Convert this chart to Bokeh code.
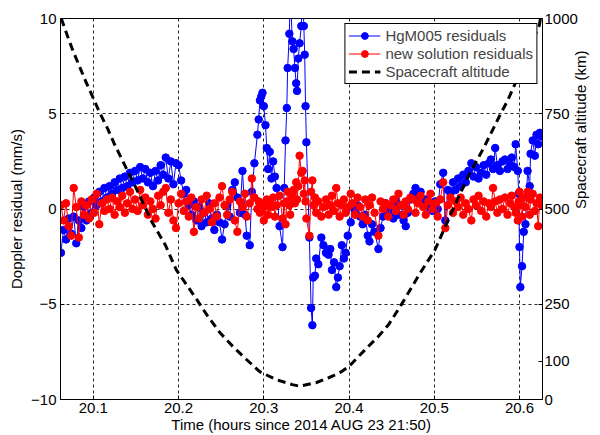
import math
from bokeh.plotting import figure
from bokeh.models import Range1d, LinearAxis, FixedTicker, Legend, LegendItem
from bokeh.embed import file_html
from bokeh.resources import INLINE

# Observation times (hours since 2014 AUG 23 21:50)
time_h = [
    20.062, 20.065, 20.068, 20.071, 20.074, 20.077, 20.080, 20.083, 20.086, 20.089,
    20.092, 20.095, 20.098, 20.101, 20.104, 20.107, 20.110, 20.113, 20.116, 20.119,
    20.122, 20.125, 20.128, 20.131, 20.134, 20.137, 20.140, 20.143, 20.146, 20.149,
    20.152, 20.155, 20.158, 20.161, 20.164, 20.167, 20.170, 20.173, 20.176, 20.179,
    20.182, 20.185, 20.188, 20.191, 20.194, 20.197, 20.200, 20.203, 20.206, 20.209,
    20.212, 20.215, 20.218, 20.221, 20.224, 20.227, 20.230, 20.233, 20.236, 20.239,
    20.242, 20.245, 20.248, 20.251, 20.254, 20.257, 20.260, 20.263, 20.266, 20.269,
    20.272, 20.275, 20.278, 20.280, 20.2835, 20.286, 20.289, 20.2925, 20.294, 20.2955,
    20.297, 20.2985, 20.300, 20.302, 20.3035, 20.305, 20.307, 20.309, 20.311, 20.313,
    20.315, 20.3185, 20.322, 20.324, 20.3255, 20.327, 20.328, 20.330, 20.331, 20.3335,
    20.335, 20.3365, 20.338, 20.339, 20.3405, 20.342, 20.344, 20.3455, 20.347, 20.348,
    20.349, 20.350, 20.3535, 20.3555, 20.357, 20.358, 20.360, 20.3615, 20.364, 20.3675,
    20.370, 20.373, 20.376, 20.378, 20.380, 20.3825, 20.385, 20.387, 20.389, 20.3915,
    20.394, 20.396, 20.3985, 20.402, 20.404, 20.407, 20.410, 20.413, 20.416, 20.419,
    20.422, 20.424, 20.427, 20.430, 20.4345, 20.437, 20.440, 20.443, 20.446, 20.449,
    20.452, 20.455, 20.458, 20.461, 20.464, 20.4665, 20.469, 20.472, 20.4755, 20.478,
    20.481, 20.484, 20.487, 20.490, 20.493, 20.4955, 20.498, 20.501, 20.504, 20.507,
    20.5105, 20.513, 20.516, 20.519, 20.522, 20.525, 20.528, 20.531, 20.534, 20.537,
    20.540, 20.5435, 20.546, 20.549, 20.552, 20.555, 20.558, 20.561, 20.564, 20.5665,
    20.569, 20.5715, 20.574, 20.577, 20.580, 20.583, 20.586, 20.589, 20.591, 20.594,
    20.5955, 20.598, 20.599, 20.600, 20.601, 20.603, 20.605, 20.607, 20.6095, 20.612,
    20.613, 20.6155, 20.618, 20.620, 20.622, 20.624, 20.626,
]

# HgM005 residuals (mm/s)
hgm005 = [
    -2.3, -1.1, -1.6, -0.5, -1.3, -0.4, -1.8, -0.6, -1.0, 0.1,
    -0.6, 0.4, -0.2, 0.6, 0.2, 0.9, 0.4, 1.1, 0.6, 1.2,
    0.8, 1.4, 1.0, 1.6, 1.1, 1.7, 1.2, 1.9, 1.4, 2.0,
    1.5, 2.2, 1.6, 2.1, 1.4, 1.9, 1.2, 2.0, 1.5, 2.3,
    1.8, 2.7, 1.6, 2.5, 1.3, 2.4, 2.3, 1.5, 0.8, 1.0,
    0.2, -0.3, 0.4, -0.6, 0.1, -0.9, -0.2, -0.7, 0.3, -0.5,
    -1.1, -0.3, -0.7, -1.6, -0.8, 0.2, -0.4, 1.0, 1.4, 0.6,
    -0.2, 2.0, -0.3, -1.4, -1.9, 0.9, 2.4, 3.9, 4.7, 5.7,
    5.9, 6.1, 5.4, 4.4, 3.2, 2.1, 3.0, 1.6, 2.5, 1.7,
    1.1, -0.9, -2.0, 1.1, 3.6, 5.3, 7.4, 9.2, 11.5, 8.8,
    8.4, 7.4, 6.6, 6.2, 7.9, 8.7, 9.6, 11.5, 9.6, 8.1,
    5.4, 3.5, -1.5, -5.2, -6.1, -3.6, -3.5, -2.6, -2.9, -1.5,
    -1.9, -2.3, -2.4, -2.1, -3.2, -2.8, -4.1, -3.6, -3.0, -1.9,
    -2.6, -2.3, -1.4, -0.7, 0.1, -0.2, 0.2, -0.4, -0.8, -0.3,
    -1.4, -1.7, -0.8, -1.2, -2.1, -1.0, -0.4, 0.3, -0.2, 0.1,
    -0.5, 0.4, -0.3, 0.2, -0.6, -0.9, -0.2, 0.5, 0.8, 1.1,
    0.6, 0.9, 0.3, 0.5, 0.1, 0.2, -0.1, 0.4, 0.0, 1.3,
    1.9, -0.6, 1.0, 0.8, 1.4, 1.0, 1.6, 1.2, 1.8, 1.4,
    2.0, 2.4, 1.7, 2.2, 1.6, 1.9, 2.3, 1.8, 2.4, 2.6,
    2.1, 3.2, 2.3, 2.0, 2.5, 2.6, 2.1, 2.3, 2.7, 2.2,
    3.4, 2.0, 0.8, -2.0, -4.1, -3.0, -1.2, -0.8, 2.0, 1.2,
    2.9, 3.6, 2.8, 3.9, 3.4, 4.0, 3.8,
]

# New solution residuals (mm/s)
newsol = [
    0.2, -0.6, 0.3, -0.9, -1.4, 1.1, 0.1, -1.5, 0.4, -0.3,
    0.2, -0.5, 0.5, -0.2, 0.8, -0.8, 0.3, -0.1, 0.5, 0.0,
    0.6, -0.3, 0.4, 0.1, 0.7, -0.2, 0.3, 0.9, 0.0, 0.5,
    -0.1, 1.0, 0.2, 0.6, -0.3, 0.4, 0.0, -0.5, 0.7, 0.2,
    0.9, 1.1, -0.2, 0.5, -0.6, -1.0, 0.3, 0.8, -0.1, 0.4,
    -0.4, 0.6, -1.2, 0.1, -0.5, 0.5, -0.2, 0.7, 0.0, -0.7,
    0.3, -0.4, 0.6, 1.2, 0.2, -0.3, 0.5, 0.9, -0.6, -1.2,
    0.4, 0.1, 0.8, -0.4, 0.3, 1.6, 0.6, 0.0, 0.4, -0.2,
    0.3, 0.0, -0.6, 0.2, 0.5, -0.3, 0.4, 0.1, 0.6, -0.4,
    0.2, 0.7, -0.5, 0.3, -0.8, 0.4, 0.9, 0.2, -0.3, 0.6,
    1.0, 0.3, 1.4, 0.5, 1.2, 2.8, 1.9, 2.0, 0.8, 1.5,
    0.4, -0.5, -1.4, 0.9, 1.5, 0.2, 0.6, -0.2, 0.4, -0.4,
    0.1, 0.5, -0.3, 0.2, 0.7, -0.1, 1.1, 0.3, -0.4, 0.2,
    0.5, -0.2, 0.1, 0.8, 0.3, -0.3, 0.6, 0.1, -0.4, 0.5,
    -0.6, 0.2, 0.6, -0.2, -1.4, 0.4, 0.0, 0.3, -0.4, 0.2,
    0.5, -0.1, 0.8, 0.2, -0.3, 0.4, 0.0, 0.6, 0.5, -0.2,
    0.3, 0.7, 0.1, -0.3, 0.4, 0.8, 0.0, 0.3, -0.4, 0.5,
    1.4, -1.0, 0.2, 0.6, -0.2, 0.4, 0.1, 0.6, -0.3, 0.3,
    0.0, -0.6, 0.5, 0.2, 0.7, -0.1, 0.4, -0.4, 0.3, 0.1,
    1.1, 0.4, -0.2, 0.5, 0.0, 0.6, -0.3, 0.3, 0.7, 0.1,
    -0.2, -0.6, 0.4, 0.9, 0.2, -0.4, 0.6, 0.1, 0.9, -0.3,
    0.5, 0.8, -0.1, 0.3, -0.9, 0.6, 0.2,
]

# Spacecraft altitude (km)
alt_time = [
    20.0624, 20.0702, 20.076, 20.0857, 20.0915, 20.0993, 20.107, 20.1168, 20.1244,
    20.1497, 20.1683, 20.1846, 20.1974, 20.2215, 20.2332, 20.2487, 20.2638, 20.2797,
    20.2952, 20.3147, 20.3336, 20.3418, 20.3612, 20.3802, 20.3918, 20.40, 20.4151,
    20.4346, 20.4463, 20.4614, 20.4835, 20.5009, 20.5199, 20.5397, 20.5591, 20.5781,
    20.5862, 20.5941, 20.613, 20.6232, 20.6247,
]
alt_km = [
    1000, 951, 916, 864, 833, 794, 755, 711, 672,
    557, 468, 405, 340, 262, 222, 175, 139, 105,
    73, 52, 39, 35, 44, 61, 74, 87, 122,
    166, 196, 249, 332, 393, 489, 585, 665, 751,
    785, 825, 925, 982, 1000,
]

x_ticks = [20.1, 20.2, 20.3, 20.4, 20.5, 20.6]
left_ticks = [-10, -5, 0, 5, 10]
left_labels = {-10: "\u221210", -5: "\u22125", 0: "0", 5: "5", 10: "10"}
right_ticks = [0, 100, 250, 500, 750, 1000]

assert len(time_h) == len(hgm005) == len(newsol)
assert len(alt_time) == len(alt_km)

FONT = "Liberation Sans"
FS = "15px"
BLUE = "#0000ff"
RED = "#ff0000"

p = figure(width=600, height=435, output_backend="svg", toolbar_location=None,
           x_range=Range1d(20.0615, 20.627), y_range=Range1d(-10, 10),
           min_border_left=60, min_border_right=55, min_border_top=18,
           min_border_bottom=35)
p.extra_y_ranges = {"alt": Range1d(0, 1000)}
p.background_fill_color = "white"
p.border_fill_color = "white"
p.outline_line_color = "black"
p.outline_line_width = 1
p.outline_line_alpha = 1

# grid
p.xgrid.ticker = FixedTicker(ticks=x_ticks)
p.ygrid.ticker = FixedTicker(ticks=[-5, 0, 5])
for g in (p.xgrid, p.ygrid):
    g.grid_line_color = "black"
    g.grid_line_dash = "3 3"
    g.grid_line_width = 1
    g.grid_line_alpha = 0.85

# series
bl = p.line(time_h, hgm005, line_color=BLUE, line_width=1)
bs = p.scatter(time_h, hgm005, size=7.5, fill_color=BLUE, line_color=BLUE)
rl = p.line(time_h, newsol, line_color=RED, line_width=1)
rs = p.scatter(time_h, newsol, size=7.5, fill_color=RED, line_color=RED)
al = p.line(alt_time, alt_km, y_range_name="alt", line_color="black",
            line_width=3, line_dash="8 5")

# axes
xa = p.xaxis[0]
xa.ticker = FixedTicker(ticks=x_ticks)
xa.axis_label = "Time (hours since 2014 AUG 23 21:50)"
ya = p.yaxis[0]
ya.ticker = FixedTicker(ticks=left_ticks)
ya.major_label_overrides = left_labels
ya.axis_label = "Doppler residual (mm/s)"

ra = LinearAxis(y_range_name="alt", ticker=FixedTicker(ticks=right_ticks),
                axis_label="Spacecraft altitude (km)")
p.add_layout(ra, "right")

for ax in (xa, ya, ra):
    ax.axis_line_color = "black"
    ax.axis_line_width = 1
    ax.major_tick_in = 4
    ax.major_tick_out = 0
    ax.major_tick_line_color = "black"
    ax.minor_tick_line_color = None
    ax.major_label_text_font = FONT
    ax.major_label_text_font_size = FS
    ax.major_label_text_color = "black"
    ax.major_label_standoff = 3
    ax.axis_label_text_font = FONT
    ax.axis_label_text_font_size = FS
    ax.axis_label_text_font_style = "normal"
    ax.axis_label_text_color = "black"
    ax.axis_label_standoff = 3

xa.major_label_standoff = 3
xa.axis_label_standoff = 0
ya.major_label_standoff = 4
ra.major_label_standoff = 2
ra.axis_label_standoff = 0
try:
    ra.axis_label_orientation = math.pi / 2
except Exception:
    pass

legend = Legend(items=[
    LegendItem(label="HgM005 residuals", renderers=[bl, bs]),
    LegendItem(label="new solution residuals", renderers=[rl, rs]),
    LegendItem(label="Spacecraft altitude", renderers=[al]),
], location="top_right")
legend.border_line_color = "black"
legend.border_line_width = 1
legend.border_line_alpha = 1
legend.background_fill_color = "white"
legend.background_fill_alpha = 1
legend.label_text_font = FONT
legend.label_text_font_size = FS
legend.glyph_width = 32
legend.glyph_height = 17
legend.label_height = 17
legend.label_standoff = 5
legend.spacing = 1
legend.padding = 3
legend.margin = 5
p.add_layout(legend)

open("out.html", "w").write(file_html(p, INLINE))
